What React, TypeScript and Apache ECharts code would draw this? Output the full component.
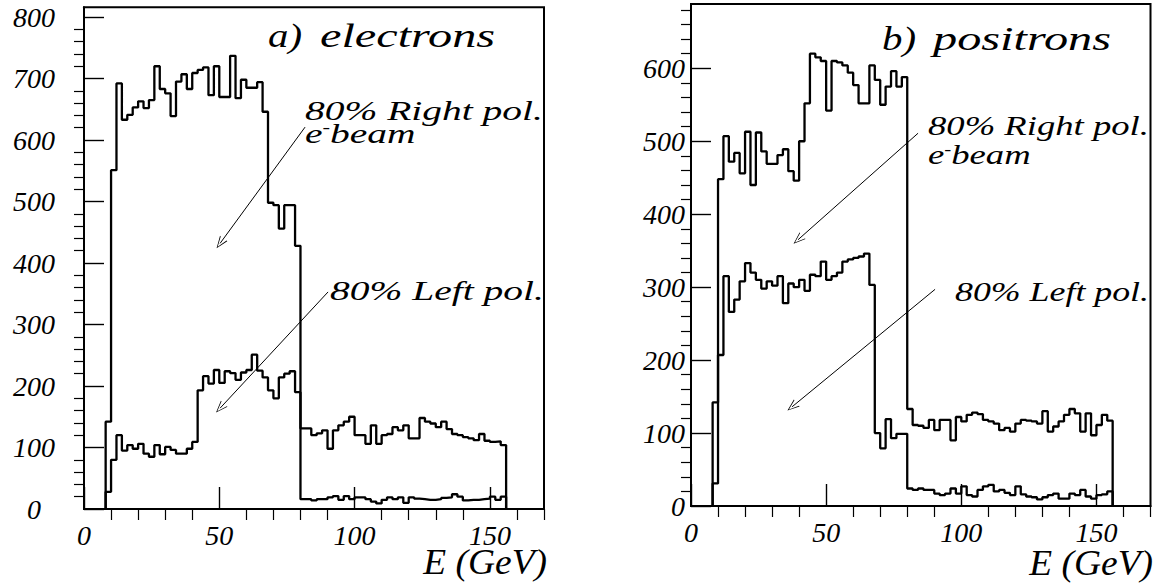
import React, { useEffect, useRef } from "react";
import * as echarts from "echarts";

// ---------------- data ----------------
const BIN_START = 8; // GeV, left edge of first filled bin
const BIN_WIDTH = 2; // GeV
const X_MAX = 170;
const X_MAJOR = [0, 50, 100, 150];
const X_MINOR = [10, 20, 30, 40, 60, 70, 80, 90, 110, 120, 130, 140, 160, 170];
const Y_MAJOR_E = [0, 100, 200, 300, 400, 500, 600, 700, 800];
const Y_MAJOR_P = [0, 100, 200, 300, 400, 500, 600];
const Y_MAX_E = 816;
const Y_MAX_P = 688;

// a) electrons, bins 8-10, 10-12, ... 154-156 GeV
const electronsRight = [
  142, 551, 692, 633, 641, 653, 663, 652, 665, 720, 683, 676, 639, 695, 707, 683, 709, 714,
  718, 673, 720, 670, 670, 737, 668, 698, 685, 685, 694, 646, 498, 494, 456, 494, 494, 428,
  131, 131, 120, 123, 128, 98, 128, 136, 142, 150, 120, 120, 106, 136, 106, 120, 122, 133,
  128, 136, 115, 115, 148, 142, 139, 133, 142, 130, 122, 120, 117, 115, 112, 122, 111, 109,
  110, 104,
];
const electronsLeft = [
  28, 80, 120, 95, 104, 98, 106, 90, 85, 104, 89, 101, 96, 90, 90, 98, 109, 193,
  216, 204, 226, 205, 224, 221, 210, 222, 226, 251, 225, 214, 193, 180, 214, 220, 224, 190,
  16, 16, 14, 16, 16, 19, 21, 15, 21, 16, 19, 19, 16, 12, 9, 15, 19, 16,
  19, 10, 19, 17, 16, 15, 15, 16, 18, 19, 24, 20, 14, 15, 15, 16, 17, 20,
  15, 20,
];
// b) positrons
const positronsRight = [
  142, 448, 507, 472, 484, 456, 513, 440, 512, 486, 469, 469, 481, 489, 459, 446, 500, 552,
  620, 615, 610, 542, 610, 608, 604, 594, 577, 552, 552, 604, 584, 550, 575, 596, 575, 588,
  133, 111, 110, 107, 118, 104, 118, 118, 90, 122, 116, 125, 128, 126, 118, 116, 113, 104,
  107, 102, 113, 118, 117, 116, 113, 130, 102, 109, 116, 125, 133, 127, 102, 127, 97, 111,
  125, 117,
];
const positronsLeft = [
  31, 207, 315, 266, 283, 308, 333, 320, 310, 298, 308, 302, 315, 278, 305, 300, 310, 295,
  317, 315, 335, 310, 315, 320, 335, 338, 340, 342, 346, 303, 100, 79, 119, 93, 99, 99,
  24, 22, 24, 22, 22, 17, 15, 17, 24, 17, 27, 15, 13, 22, 27, 29, 20, 22,
  18, 15, 27, 16, 13, 12, 9, 12, 15, 17, 10, 10, 17, 15, 22, 13, 10, 15,
  16, 20,
];

// annotation arrows: [tail, head] in (E, entries)
const arrowElectronsRight = [[81.7, 621], [50.3, 432]];
const arrowElectronsLeft = [[90.2, 353], [50.3, 164]];
const arrowPositronsRight = [[84.0, 511], [39.6, 365]];
const arrowPositronsLeft = [[90.3, 297], [37.4, 136]];

// ---------------- helpers ----------------
const FONT = "Liberation Serif";

function histPoints(vals: number[]): [number, number][] {
  const pts: [number, number][] = [[BIN_START, 0]];
  vals.forEach((v, i) => pts.push([BIN_START + i * BIN_WIDTH, v]));
  pts.push([BIN_START + vals.length * BIN_WIDTH, 0]);
  return pts;
}

function minorTicks(major: number[], step: number, max: number): number[] {
  const out: number[] = [];
  for (let v = step; v <= max; v += step) if (major.indexOf(v) < 0) out.push(v);
  return out;
}

const ARROW = "path://M5,0 L10,14 L9,14 L5,2.2 L1,14 L0,14 Z";

function arrowMarkLine(a: number[][]) {
  return {
    silent: true,
    symbol: ["none", ARROW],
    symbolSize: [9, 12],
    lineStyle: { color: "#000", width: 1, type: "solid" },
    label: { show: false },
    emphasis: { disabled: true },
    animation: false,
    data: [[{ coord: a[0] }, { coord: a[1] }]],
  };
}

function histSeries(vals: number[], name: string, gi: number, arrow: number[][]) {
  return {
    type: "line",
    name,
    xAxisIndex: gi * 2,
    yAxisIndex: gi * 2,
    step: "end",
    symbol: "none",
    silent: true,
    data: histPoints(vals),
    lineStyle: { color: "#000", width: 2.3 },
    markLine: arrowMarkLine(arrow),
  };
}

const labelStyle = {
  fontFamily: FONT,
  fontStyle: "italic",
  fontSize: 28,
  color: "#000",
};

function xAxes(gi: number) {
  return [
    {
      type: "value",
      gridIndex: gi,
      min: 0,
      max: X_MAX,
      interval: 50,
      axisLine: { show: true, lineStyle: { color: "#000", width: 2 } },
      axisTick: { show: true, inside: true, length: 22, customValues: X_MAJOR, lineStyle: { color: "#000", width: 1.4 } },
      axisLabel: {
        ...labelStyle,
        margin: 12,
        customValues: X_MAJOR,
        formatter: (v: number) => (X_MAJOR.indexOf(v) >= 0 ? String(v) : ""),
      },
      splitLine: { show: false },
    },
    {
      type: "value",
      gridIndex: gi,
      min: 0,
      max: X_MAX,
      interval: 10,
      axisLine: { show: false },
      axisTick: { show: true, inside: true, length: 11, customValues: X_MINOR, lineStyle: { color: "#000", width: 1.2 } },
      axisLabel: { show: false },
      splitLine: { show: false },
    },
  ];
}

function yAxes(gi: number, major: number[], yMax: number, margin: number, align: string) {
  return [
    {
      type: "value",
      gridIndex: gi,
      min: 0,
      max: yMax,
      interval: 100,
      axisLine: { show: true, lineStyle: { color: "#000", width: 2 } },
      axisTick: { show: true, inside: true, length: 20, customValues: major, lineStyle: { color: "#000", width: 1.4 } },
      axisLabel: {
        ...labelStyle,
        margin,
        align,
        customValues: major,
        formatter: (v: number) => (major.indexOf(v) >= 0 ? String(v) : ""),
      },
      splitLine: { show: false },
    },
    {
      type: "value",
      gridIndex: gi,
      min: 0,
      max: yMax,
      interval: 20,
      axisLine: { show: false },
      axisTick: {
        show: true,
        inside: true,
        length: 10,
        customValues: minorTicks(major, 20, major[major.length - 1] + 80),
        lineStyle: { color: "#000", width: 1.2 },
      },
      axisLabel: { show: false },
      splitLine: { show: false },
    },
  ];
}

function txt(text: string, x: number, y: number, fs: number, sx: number, align = "left") {
  return {
    type: "text",
    x,
    y,
    scaleX: sx,
    silent: true,
    style: {
      text,
      fontFamily: FONT,
      fontStyle: "italic",
      fontSize: fs,
      fill: "#000",
      align,
      textAlign: align,
      verticalAlign: "middle",
      textVerticalAlign: "middle",
    },
  };
}

function beamText(x: number, y: number, fs: number, sx: number) {
  return {
    type: "text",
    x,
    y,
    scaleX: sx,
    silent: true,
    style: {
      text: "{n|e}{s|-}{n|beam}",
      fill: "#000",
      align: "left",
      verticalAlign: "middle",
      rich: {
        n: { fontFamily: FONT, fontStyle: "italic", fontSize: fs, color: "#000" },
        s: { fontFamily: FONT, fontStyle: "italic", fontSize: 16, color: "#000", verticalAlign: "top" },
      },
    },
  };
}

export default function App() {
  const ref = useRef<HTMLDivElement>(null);
  useEffect(() => {
    if (!ref.current) return;
    const chart = echarts.init(ref.current, undefined, { renderer: "svg" });
    const option = {
      animation: false,
      backgroundColor: "#fff",
      grid: [
        { left: 84, top: 7.2, width: 460, height: 501.8, show: true, borderColor: "#000", borderWidth: 2, backgroundColor: "transparent" },
        { left: 691, top: 4.1, width: 459.5, height: 501.9, show: true, borderColor: "#000", borderWidth: 2, backgroundColor: "transparent" },
      ],
      xAxis: [...xAxes(0), ...xAxes(1)],
      yAxis: [...yAxes(0, Y_MAJOR_E, Y_MAX_E, 50, "center"), ...yAxes(1, Y_MAJOR_P, Y_MAX_P, 6, "right")],
      series: [
        histSeries(electronsRight, "a) 80% Right pol.", 0, arrowElectronsRight),
        histSeries(electronsLeft, "a) 80% Left pol.", 0, arrowElectronsLeft),
        histSeries(positronsRight, "b) 80% Right pol.", 1, arrowPositronsRight),
        histSeries(positronsLeft, "b) 80% Left pol.", 1, arrowPositronsLeft),
      ],
      graphic: [
        txt("a)", 268, 36, 34, 1.2),
        txt("electrons", 320, 36, 34, 1.42),
        txt("80% Right pol.", 305, 111, 28, 1.41),
        beamText(305, 134, 28, 1.41),
        txt("80% Left pol.", 330, 291, 28, 1.41),
        txt("E (GeV)", 547, 562, 35, 1.07, "right"),
        txt("b)", 882, 39, 34, 1.2),
        txt("positrons", 933, 39, 34, 1.42),
        txt("80% Right pol.", 928, 126, 28, 1.31),
        beamText(928, 155, 28, 1.31),
        txt("80% Left pol.", 955, 291, 28, 1.28),
        txt("E (GeV)", 1153, 563, 35, 1.07, "right"),
      ],
    };
    chart.setOption(option as any);
    return () => chart.dispose();
  }, []);
  return (
    <div
      ref={ref}
      style={{ position: "absolute", left: 0, top: 0, width: 1161, height: 588, background: "#fff" }}
    />
  );
}
